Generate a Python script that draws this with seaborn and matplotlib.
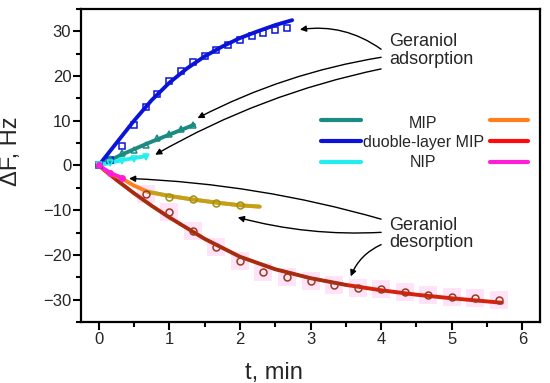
import matplotlib
matplotlib.use('Agg')
import matplotlib.pyplot as plt
import seaborn as sns
from matplotlib.lines import Line2D

# adsorption data (t in min, dF in Hz)
t_ads = [0, 0.167, 0.333, 0.5, 0.667, 0.833, 1.0, 1.167, 1.333, 1.5, 1.667, 1.833, 2.0, 2.167, 2.333, 2.5, 2.667]
dbl_ads = [0, 1.2, 4.4, 9.0, 13.1, 16.1, 18.8, 21.2, 23.1, 24.6, 25.8, 27.0, 28.0, 29.0, 29.6, 30.4, 30.7]
mip_ads = [0, 1.5, 2.7, 3.4, 4.6, 6.1, 7.0, 8.1, 9.0]
nip_ads = [0, 0.6, 1.0, 1.5, 1.9]

# adsorption fits
t_fit_dbl_ads = [0, 0.25, 0.5, 0.75, 1.0, 1.25, 1.5, 1.75, 2.0, 2.25, 2.5, 2.74]
fit_dbl_ads = [0, 5.0, 10.0, 14.6, 18.5, 21.7, 24.4, 26.6, 28.5, 30.0, 31.4, 32.5]
t_fit_mip_ads = [0, 0.35, 0.7, 1.0, 1.35]
fit_mip_ads = [0, 2.6, 5.0, 6.9, 9.1]
t_fit_nip_ads = [0, 0.33, 0.67]
fit_nip_ads = [0, 1.2, 2.1]

# desorption data
t_des = [0, 0.667, 1.0, 1.333, 1.667, 2.0, 2.333, 2.667, 3.0, 3.333, 3.667, 4.0, 4.333, 4.667, 5.0, 5.333, 5.667]
dbl_des = [0, -6.4, -10.5, -14.6, -18.3, -21.4, -23.8, -25.0, -25.9, -26.8, -27.3, -27.6, -28.4, -29.0, -29.4, -29.7, -30.1]
t_mip_des = [1.0, 1.333, 1.667, 2.0]
mip_des = [-7.0, -7.6, -8.3, -8.9]
t_nip_des = [0, 0.167, 0.333]
nip_des = [0, -1.6, -2.8]

# desorption fits
t_fit_dbl_des = [0, 0.25, 0.5, 0.75, 1.0, 1.5, 2.0, 2.5, 3.0, 3.5, 4.0, 4.5, 5.0, 5.5, 5.71]
fit_dbl_des = [0, -3.2, -6.2, -9.0, -11.6, -16.4, -20.4, -23.2, -25.2, -26.7, -27.9, -28.9, -29.7, -30.4, -30.7]
t_fit_mip_des = [0, 0.17, 0.35, 0.5, 0.7, 1.0, 1.33, 1.67, 2.0, 2.28]
fit_mip_des = [0, -1.8, -3.1, -4.5, -5.9, -6.8, -7.6, -8.3, -8.9, -9.2]
t_fit_nip_des = [0, 0.17, 0.35]
fit_nip_des = [0, -1.7, -2.9]

labels = ['MIP', 'duoble-layer MIP', 'NIP']

teal = '#1b8a80'
blue = '#0a14d8'
cyan = '#22eeee'
orange = '#ff7f1e'
red = '#ff0a0a'
magenta = '#ff1ed8'
olive = '#b8a818'
brown = '#9a3a1a'

sns.set_style('ticks')
plt.rcParams['font.family'] = ['Liberation Sans', 'DejaVu Sans']

fig, ax = plt.subplots(figsize=(5.5, 3.83), dpi=100)
fig.subplots_adjust(left=0.1473, right=0.9818, top=0.9765, bottom=0.1593)

lw = 2.8
# pale pink boxes behind the double-layer desorption points
sns.lineplot(x=t_des[1:], y=dbl_des[1:], ax=ax, linestyle='', marker='s', markersize=13,
             color='#ffb0f0', markeredgewidth=0, alpha=0.35)

# fit lines
sns.lineplot(x=t_fit_dbl_ads, y=fit_dbl_ads, ax=ax, color=blue, lw=lw)
sns.lineplot(x=t_fit_mip_ads, y=fit_mip_ads, ax=ax, color=teal, lw=lw)
sns.lineplot(x=t_fit_nip_ads, y=fit_nip_ads, ax=ax, color=cyan, lw=lw)
sns.lineplot(x=t_fit_dbl_des, y=fit_dbl_des, ax=ax, color='#d8200c', lw=lw)
sns.lineplot(x=t_fit_dbl_des[1:10], y=fit_dbl_des[1:10], ax=ax, color='#7a3a10', lw=lw - 0.6, alpha=0.6)
sns.lineplot(x=t_fit_mip_des, y=fit_mip_des, ax=ax, color=orange, lw=lw)
sns.lineplot(x=t_fit_mip_des[4:], y=fit_mip_des[4:], ax=ax, color=olive, lw=lw, alpha=0.85)
sns.lineplot(x=t_fit_nip_des, y=fit_nip_des, ax=ax, color=magenta, lw=lw)

# data points
sns.lineplot(x=t_ads, y=dbl_ads, ax=ax, linestyle='', marker='s', markersize=5,
             markerfacecolor='none', markeredgecolor=blue, markeredgewidth=1.1, color=blue)
sns.lineplot(x=t_ads[:len(mip_ads)], y=mip_ads, ax=ax, linestyle='', marker='^', markersize=5,
             markerfacecolor='none', markeredgecolor=teal, markeredgewidth=1.1, color=teal)
sns.lineplot(x=t_ads[:len(nip_ads)], y=nip_ads, ax=ax, linestyle='', marker='v', markersize=4,
             markerfacecolor='none', markeredgecolor=cyan, markeredgewidth=1.1, color=cyan)
sns.lineplot(x=t_des[1:], y=dbl_des[1:], ax=ax, linestyle='', marker='o', markersize=5,
             markerfacecolor='none', markeredgecolor=brown, markeredgewidth=1.1, color=brown)
sns.lineplot(x=t_mip_des, y=mip_des, ax=ax, linestyle='', marker='o', markersize=5,
             markerfacecolor='none', markeredgecolor='#a09010', markeredgewidth=1.1, color=olive)
sns.lineplot(x=t_nip_des, y=nip_des, ax=ax, linestyle='', marker='o', markersize=5,
             markeredgewidth=0, color=magenta)

ax.set_xticks(range(0, 7))
ax.set_yticks(range(-30, 31, 10))
ax.set_xticks([x + 0.5 for x in range(0, 6)], minor=True)
ax.set_yticks(range(-35, 36, 10), minor=True)
ax.set_xlim(-0.25, 6.25)
ax.set_ylim(-35, 35)
ax.tick_params(which='major', length=5.5, width=1.5, labelsize=12, pad=1.5, color='black')
ax.tick_params(which='minor', length=3.5, width=1.5, color='black')
for s in ax.spines.values():
    s.set_linewidth(1.6)
    s.set_color('black')

ax.set_xlabel('t, min', fontsize=17)
ax.set_ylabel('\u0394F, Hz', fontsize=17)
ax.xaxis.set_label_coords(0.42, -0.128)
ax.yaxis.set_label_coords(-0.128, 0.546)

# legend: keys left and right, centred labels in the middle
left_keys = [Line2D([], [], color=c, lw=3) for c in (teal, blue, cyan)]
right_keys = [Line2D([], [], color=c, lw=3) for c in (orange, red, magenta)]
leg1 = ax.legend(left_keys, ['', '', ''], loc='upper left', bbox_to_anchor=(0.522, 0.665),
                 frameon=False, fontsize=12, handlelength=2.4, handletextpad=0,
                 labelspacing=0.36, borderpad=0, borderaxespad=0)
ax.add_artist(leg1)
ax.legend(right_keys, ['', '', ''], loc='upper left', bbox_to_anchor=(0.891, 0.665),
          frameon=False, fontsize=12, handlelength=2.28, handletextpad=0,
          labelspacing=0.36, borderpad=0, borderaxespad=0)
for lab, yy in zip(labels, [0.635, 0.573, 0.510]):
    ax.text(0.746, yy, lab, transform=ax.transAxes, ha='center', va='center', fontsize=11.5)

# annotations
akw = dict(arrowstyle='-|>', color='black', lw=1.0, mutation_scale=9, shrinkA=0, shrinkB=0)
ax.text(4.11, 25.7, 'Geraniol\nadsorption', ha='left', va='center', fontsize=13, linespacing=1.05)
ax.annotate('', xy=(2.85, 30.4), xytext=(4.0, 26.0),
            arrowprops=dict(connectionstyle='arc3,rad=0.2', **akw))
ax.annotate('', xy=(1.40, 10.6), xytext=(4.0, 24.2),
            arrowprops=dict(connectionstyle='arc3,rad=0.08', **akw))
ax.annotate('', xy=(0.80, 2.4), xytext=(4.0, 21.6),
            arrowprops=dict(connectionstyle='arc3,rad=0.08', **akw))

ax.text(4.11, -15.3, 'Geraniol\ndesorption', ha='left', va='center', fontsize=13, linespacing=1.05)
ax.annotate('', xy=(0.43, -2.9), xytext=(4.0, -12.0),
            arrowprops=dict(connectionstyle='arc3,rad=0.06', **akw))
ax.annotate('', xy=(1.97, -11.6), xytext=(4.0, -14.95),
            arrowprops=dict(connectionstyle='arc3,rad=-0.08', **akw))
ax.annotate('', xy=(3.57, -24.8), xytext=(4.0, -17.7),
            arrowprops=dict(connectionstyle='arc3,rad=0.2', **akw))

fig.savefig('out.png', dpi=100)
